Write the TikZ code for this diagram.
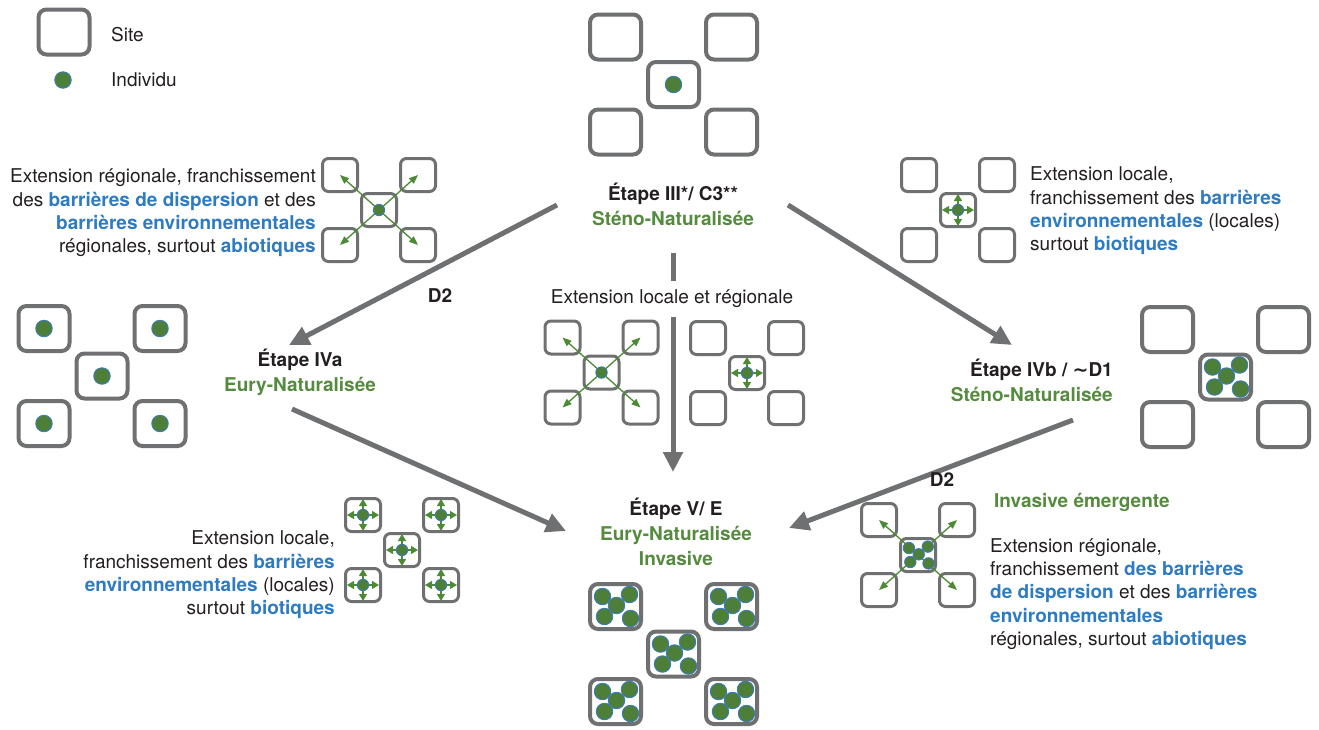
\documentclass[tikz,border=0pt]{standalone}
\usepackage{fontspec}
\setmainfont{TeX Gyre Heros}
\newfontfamily\symfont{DejaVu Sans}
\usetikzlibrary{arrows.meta}

\definecolor{sitegray}{HTML}{6F7072}
\definecolor{dotgreen}{HTML}{4E7F38}
\definecolor{dotrim}{HTML}{3B7BBF}
\definecolor{txtgreen}{HTML}{558B3E}
\definecolor{txtblue}{HTML}{2E7BC1}
\definecolor{txtblack}{HTML}{231F20}
\definecolor{arrgreen}{HTML}{4C8A35}

% highlighted (blue, bold) words
\newcommand{\hl}[1]{\textbf{\textcolor{txtblue}{#1}}}
% a full-size tilde
\newcommand{\approxsign}{{\symfont\bfseries\char"007E}}

% five individuals crowded in one site: #1 site node, #2 scale, #3 dot style
\newcommand{\crowd}[3]{%
  \begin{scope}[shift={(#1)}]
    \foreach \dx/\dy [count=\i] in {-13/-10,14/-12,-11/10,15/12,1/-1}
      \node[#3] (#1-d\i) at (#2*\dx,#2*\dy) {};
  \end{scope}}

% one individual with short arrows in the four directions
\newcommand{\cross}[1]{%
  \draw[push] (#1.center) -- ++(0,-16);
  \draw[push] (#1.center) -- ++(0,16);
  \draw[push] (#1.center) -- ++(-16,0);
  \draw[push] (#1.center) -- ++(16,0);
  \node[smalldot] (#1-d) at (#1) {};}

% one individual spreading diagonally to the neighbouring sites
\newcommand{\spreadout}[1]{%
  \foreach \n in {tl,tr,bl,br}
    \draw[spread] (#1-c.center) -- (#1-\n.center);}

\tikzset{
  bigsite/.style={draw=sitegray, line width=4pt, rounded corners=8pt,
    minimum width=51pt, minimum height=45pt, inner sep=0pt, fill=white},
  smallsite/.style={draw=sitegray, line width=3pt, rounded corners=6pt,
    minimum width=35pt, minimum height=33pt, inner sep=0pt, fill=white},
  bigdot/.style={circle, fill=dotgreen, draw=dotrim, line width=0.9pt,
    minimum size=16.5pt, inner sep=0pt},
  smalldot/.style={circle, fill=dotgreen, draw=dotrim, line width=0.8pt,
    minimum size=11.5pt, inner sep=0pt},
  flow/.style={draw=sitegray, line width=5pt, -{Triangle[length=20pt,width=19pt]}},
  spread/.style={draw=arrgreen, line width=1.3pt, -{Triangle[length=9pt,width=7pt]}},
  push/.style={draw=arrgreen, line width=1.3pt, -{Triangle[length=7pt,width=8pt]}},
  stage/.style={font=\fontsize{19}{25}\selectfont\bfseries, align=center, inner sep=0pt},
  note/.style={inner sep=0pt},
  bigset/.pic={
    \foreach \n/\dx/\dy in {tl/-58/-47.5,tr/58/-47.5,bl/-58/47.5,br/58/47.5,c/0/0}
      {\node[bigsite] (-\n) at (\dx,\dy) {};}
  },
  smallset/.pic={
    \foreach \n/\dx/\dy in {tl/-39/-35,tr/39/-35,bl/-39/35,br/39/35,c/0/0}
      {\node[smallsite] (-\n) at (\dx,\dy) {};}
  },
}

\begin{document}
\begin{tikzpicture}[x=1pt, y=-1pt,
  font=\fontsize{19}{23.3}\selectfont, text=txtblack]
\useasboundingbox (0,0) rectangle (1319,729);

% ---- legend
\node[bigsite] (legsite) at (64,32) {};
\node[note, anchor=west] (legsitetxt) at (111,35) {Site};
\node[bigdot] (legdot) at (63,80) {};
\node[note, anchor=west] (legdottxt) at (111,80) {Individu};

% ---- main transitions
\coordinate (a1s) at (557,205);  \coordinate (a1e) at (289,345);
\coordinate (a2s) at (788,205);  \coordinate (a2e) at (1012,345);
\coordinate (a3s) at (673,253);  \coordinate (a3e) at (673,472);
\coordinate (a4s) at (292,409);  \coordinate (a4e) at (566,531);
\coordinate (a5s) at (1073,420); \coordinate (a5e) at (789,528);
\draw[flow] (a1s) -- (a1e);
\draw[flow] (a2s) -- (a2e);
\draw[flow] (a3s) -- (a3e);
\draw[flow] (a4s) -- (a4e);
\draw[flow] (a5s) -- (a5e);

% ---- stage III
\pic (top) at (673.5,84.5) {bigset};
\node[bigdot] (top-d) at (top-c) {};
\node[stage] (s3) at (673,204) {Étape III*/ C3**\\\textcolor{txtgreen}{Sténo-Naturalisée}};

% ---- stage IVa
\pic (west) at (102,376) {bigset};
\foreach \n in {tl,tr,c,bl,br} {\node[bigdot] (west-d\n) at (west-\n) {};}
\node[stage] (s4a) at (300,372) {Étape IVa\\\textcolor{txtgreen}{Eury-Naturalisée}};

% ---- stage IVb
\pic (east) at (1225.5,377) {bigset};
\crowd{east-c}{1}{bigdot}
\node[stage, align=right, anchor=east] (s4b) at (1113,380) {Étape IVb / \approxsign D1\\\textcolor{txtgreen}{Sténo-Naturalisée}};

% ---- stage V
\pic (final) at (673.5,654) {bigset};
\foreach \n in {tl,tr,c,bl,br} {\crowd{final-\n}{1}{bigdot}}
\node[stage] (s5) at (676,532) {Étape V/ E\\\textcolor{txtgreen}{Eury-Naturalisée}\\\textcolor{txtgreen}{Invasive}};

% ---- D2 labels
\node[stage] (d2a) at (440,296) {D2};
\node[stage] (d2b) at (942,480) {D2};
\node[stage, text=txtgreen, anchor=west] (emerg) at (994,502) {Invasive émergente};

% ---- regional spread, top left
\pic (regA) at (379,210) {smallset};
\spreadout{regA}
\node[smalldot] (regA-d) at (regA-c) {};
\node[note, align=right, anchor=east] (txtTL) at (316,213)
  {Extension régionale, franchissement\\des \hl{barrières de dispersion} et des\\\hl{barrières environnementales}\\régionales, surtout \hl{abiotiques}};

% ---- local spread, top right
\pic (locA) at (958,210) {smallset};
\cross{locA-c}
\node[note, align=left, anchor=west] (txtTR) at (1030,211)
  {Extension locale,\\franchissement des \hl{barrières}\\\hl{environnementales} (locales)\\surtout \hl{biotiques}};

% ---- local and regional spread, centre
\node[note, fill=white, inner ysep=9pt, inner xsep=2pt] (ext) at (672,299) {Extension locale et régionale};
\pic (regB) at (601.5,372.5) {smallset};
\spreadout{regB}
\node[smalldot] (regB-d) at (regB-c) {};
\pic (locB) at (747,373) {smallset};
\cross{locB-c}

% ---- local spread in every site, bottom left
\pic (locC) at (402,550) {smallset};
\foreach \n in {tl,tr,c,bl,br} {\cross{locC-\n}}
\node[note, align=right, anchor=east] (txtBL) at (335,575)
  {Extension locale,\\franchissement des \hl{barrières}\\\hl{environnementales} (locales)\\surtout \hl{biotiques}};

% ---- emerging invasive, bottom right
\pic (regC) at (918,555) {smallset};
\spreadout{regC}
\crowd{regC-c}{0.7}{smalldot}
\node[note, align=left, anchor=west] (txtBR) at (990,594)
  {Extension régionale,\\franchissement \hl{des barrières}\\\hl{de dispersion} et des \hl{barrières}\\\hl{environnementales}\\régionales, surtout \hl{abiotiques}};

\end{tikzpicture}
\end{document}
